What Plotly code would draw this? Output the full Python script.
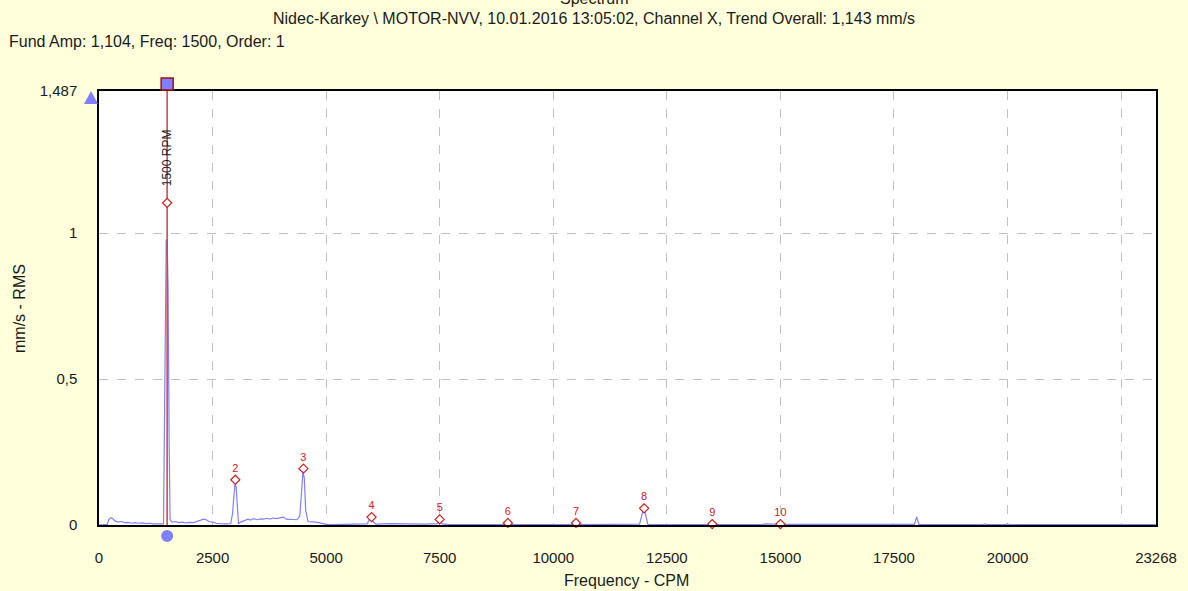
import plotly.graph_objects as go

# ---- data ----
spec_freq = [0, 100, 180, 220, 260, 300, 350, 420, 500, 560, 640, 720, 800, 880, 960, 1040,
             1120, 1200, 1280, 1360, 1420, 1440, 1460, 1480, 1500, 1520, 1545, 1565, 1600,
             1680, 1760, 1840, 1920, 2000, 2080, 2160, 2240, 2300, 2360, 2420, 2500, 2580,
             2660, 2740, 2820, 2900, 2940, 2970, 2995, 3020, 3045, 3070, 3120, 3200, 3280,
             3340, 3400, 3480, 3560, 3620, 3700, 3760, 3840, 3900, 4000, 4060, 4120, 4200,
             4280, 4360, 4420, 4460, 4490, 4520, 4550, 4600, 4680, 4760, 4840, 4920, 5000,
             5100, 5800, 5900, 5960, 6000, 6040, 6100, 6400, 6800, 7200, 7440, 7500, 7560,
             7700, 8500, 8950, 9000, 9050, 10450, 10500, 10550, 11900, 11960, 12000, 12040,
             12080, 13450, 13500, 13550, 14600, 14650, 15000, 17000, 17950, 18000, 18050,
             19450, 19500, 19550, 19950, 20000, 20050, 23268]
spec_amp = [0.0, 0.0, 0.002, 0.02, 0.025, 0.022, 0.014, 0.01, 0.012, 0.008, 0.009, 0.006,
            0.008, 0.006, 0.007, 0.005, 0.006, 0.004, 0.005, 0.004, 0.004, 0.28, 0.70, 0.976,
            0.976, 0.82, 0.27, 0.02, 0.01, 0.012, 0.008, 0.01, 0.007, 0.009, 0.008, 0.012,
            0.015, 0.02, 0.018, 0.012, 0.01, 0.006, 0.005, 0.004, 0.004, 0.005, 0.04, 0.10,
            0.14, 0.13, 0.06, 0.005, 0.01, 0.015, 0.02, 0.017, 0.022, 0.018, 0.021, 0.02,
            0.023, 0.02, 0.024, 0.022, 0.025, 0.027, 0.02, 0.019, 0.02, 0.018, 0.03, 0.12,
            0.183, 0.16, 0.05, 0.012, 0.012, 0.01, 0.008, 0.005, 0.002, 0.001, 0.002, 0.004,
            0.02, 0.024, 0.01, 0.003, 0.005, 0.004, 0.003, 0.005, 0.015, 0.004, 0.001, 0.001,
            0.001, 0.005, 0.001, 0.001, 0.004, 0.001, 0.003, 0.04, 0.055, 0.03, 0.002, 0.001,
            0.002, 0.001, 0.001, 0.004, 0.002, 0.001, 0.002, 0.028, 0.002, 0.001, 0.004,
            0.001, 0.001, 0.004, 0.001, 0.001]

harm_order = [2, 3, 4, 5, 6, 7, 8, 9, 10]
fund_freq = 1500
fund_amp = 1.104
harm_amp = [0.155, 0.193, 0.027, 0.019, 0.007, 0.007, 0.057, 0.003, 0.003]
harm_freq = [fund_freq * n for n in harm_order]

x_max = 23268
y_max = 1.487
x_tickvals = [0, 2500, 5000, 7500, 10000, 12500, 15000, 17500, 20000, 22500, 23268]
x_ticktext = ["0", "2500", "5000", "7500", "10000", "12500", "15000", "17500", "20000", "", "23268"]
y_tickvals = [0, 0.5, 1, 1.487]
y_ticktext = ["0", "0,5", "1", "1,487"]

title_top = "Spectrum"
title_sub = "Nidec-Karkey \\ MOTOR-NVV, 10.01.2016 13:05:02, Channel X, Trend Overall: 1,143 mm/s"
fund_text = "Fund Amp: 1,104, Freq: 1500, Order: 1"

BG = "#ffffdc"
BLUE = "#8080ff"
HANDLE = "#7f7fff"
RED = "#d02020"
FONT = "Liberation Sans, Arial, sans-serif"
TXT = "#1a1a1a"

fig = go.Figure()

fig.add_trace(go.Scatter(x=spec_freq, y=spec_amp, mode="lines",
                         line=dict(color=BLUE, width=1.2), hoverinfo="skip", showlegend=False))

# cursor line at fundamental
fig.add_trace(go.Scatter(x=[fund_freq, fund_freq], y=[0, y_max], mode="lines",
                         line=dict(color="#d04040", width=1.5), showlegend=False, hoverinfo="skip"))

# fundamental marker
fig.add_trace(go.Scatter(x=[fund_freq], y=[fund_amp], mode="markers",
                         marker=dict(symbol="diamond", size=7, color="white",
                                     line=dict(color=RED, width=1.2)), showlegend=False))

# harmonic markers with labels
fig.add_trace(go.Scatter(x=harm_freq, y=harm_amp, mode="markers+text",
                         text=[str(n) for n in harm_order], textposition="top center",
                         textfont=dict(color=RED, size=11, family=FONT),
                         marker=dict(symbol="diamond", size=7, color="white",
                                     line=dict(color=RED, width=1.2)),
                         cliponaxis=False, showlegend=False))

# cursor handles (paper-referenced, pixel-sized)
fx = fund_freq / x_max
fig.add_shape(type="rect", xref="paper", yref="paper", xsizemode="pixel", ysizemode="pixel",
              xanchor=fx, yanchor=1, x0=-6, x1=6, y0=1, y1=13,
              fillcolor=HANDLE, line=dict(color="#a01010", width=1.5))
fig.add_shape(type="circle", xref="paper", yref="paper", xsizemode="pixel", ysizemode="pixel",
              xanchor=fx, yanchor=0, x0=-6, x1=6, y0=-17, y1=-5,
              fillcolor=HANDLE, line=dict(color=HANDLE, width=0))
fig.add_shape(type="path", xref="paper", yref="paper", xsizemode="pixel", ysizemode="pixel",
              xanchor=0, yanchor=1, path="M -15,-13 L -1,-13 L -8,0 Z",
              fillcolor=HANDLE, line=dict(color=HANDLE, width=0))

fig.add_annotation(x=fund_freq, y=1.257, text="1500 RPM", textangle=-90, showarrow=False,
                   font=dict(size=12, color=TXT, family=FONT), xshift=0)

fig.add_annotation(xref="paper", yref="paper", x=0.4685, y=1.19, xanchor="center", yanchor="bottom",
                   text=title_top, showarrow=False, font=dict(size=16, color=TXT, family=FONT))
fig.add_annotation(xref="paper", yref="paper", x=0.4685, y=1.168, xanchor="center", yanchor="middle",
                   text=title_sub, showarrow=False, font=dict(size=16, color=TXT, family=FONT))
fig.add_annotation(xref="paper", yref="paper", x=-0.0875, y=1.113, xanchor="left", yanchor="middle",
                   text=fund_text, showarrow=False, font=dict(size=16, color=TXT, family=FONT))
fig.add_annotation(xref="paper", yref="paper", x=-0.0757, y=0.50, xanchor="center", yanchor="middle",
                   textangle=-90, text="mm/s - RMS", showarrow=False,
                   font=dict(size=16, color=TXT, family=FONT))
fig.add_annotation(xref="paper", yref="paper", x=0.4995, y=-0.1268, xanchor="center", yanchor="middle",
                   text="Frequency - CPM", showarrow=False, font=dict(size=16, color=TXT, family=FONT))

fig.update_layout(
    width=1188, height=591,
    margin=dict(l=99, r=32, t=91, b=66),
    paper_bgcolor=BG, plot_bgcolor="white",
    font=dict(family=FONT, size=15, color=TXT),
    xaxis=dict(range=[0, x_max], tickvals=x_tickvals, ticktext=x_ticktext,
               showgrid=True, gridcolor="#c0c0c0", griddash="dash", gridwidth=1,
               showline=True, linecolor="black", linewidth=1.5, mirror=True,
               zeroline=False, ticks="", ticklabelstandoff=18,
               tickfont=dict(size=15)),
    yaxis=dict(range=[0, y_max], tickvals=y_tickvals, ticktext=y_ticktext,
               showgrid=True, gridcolor="#c0c0c0", griddash="dash", gridwidth=1,
               showline=True, linecolor="black", linewidth=1.5, mirror=True,
               zeroline=False, ticks="", ticklabelstandoff=17,
               tickfont=dict(size=15)),
)

fig.write_html("out.html", config={"displayModeBar": False})

# remove default page margin so the figure fills the window exactly
with open("out.html", "r", encoding="utf-8") as f:
    html = f.read()
html = html.replace("<head>", "<head><style>html,body{margin:0;padding:0;overflow:hidden;}</style>", 1)
with open("out.html", "w", encoding="utf-8") as f:
    f.write(html)
